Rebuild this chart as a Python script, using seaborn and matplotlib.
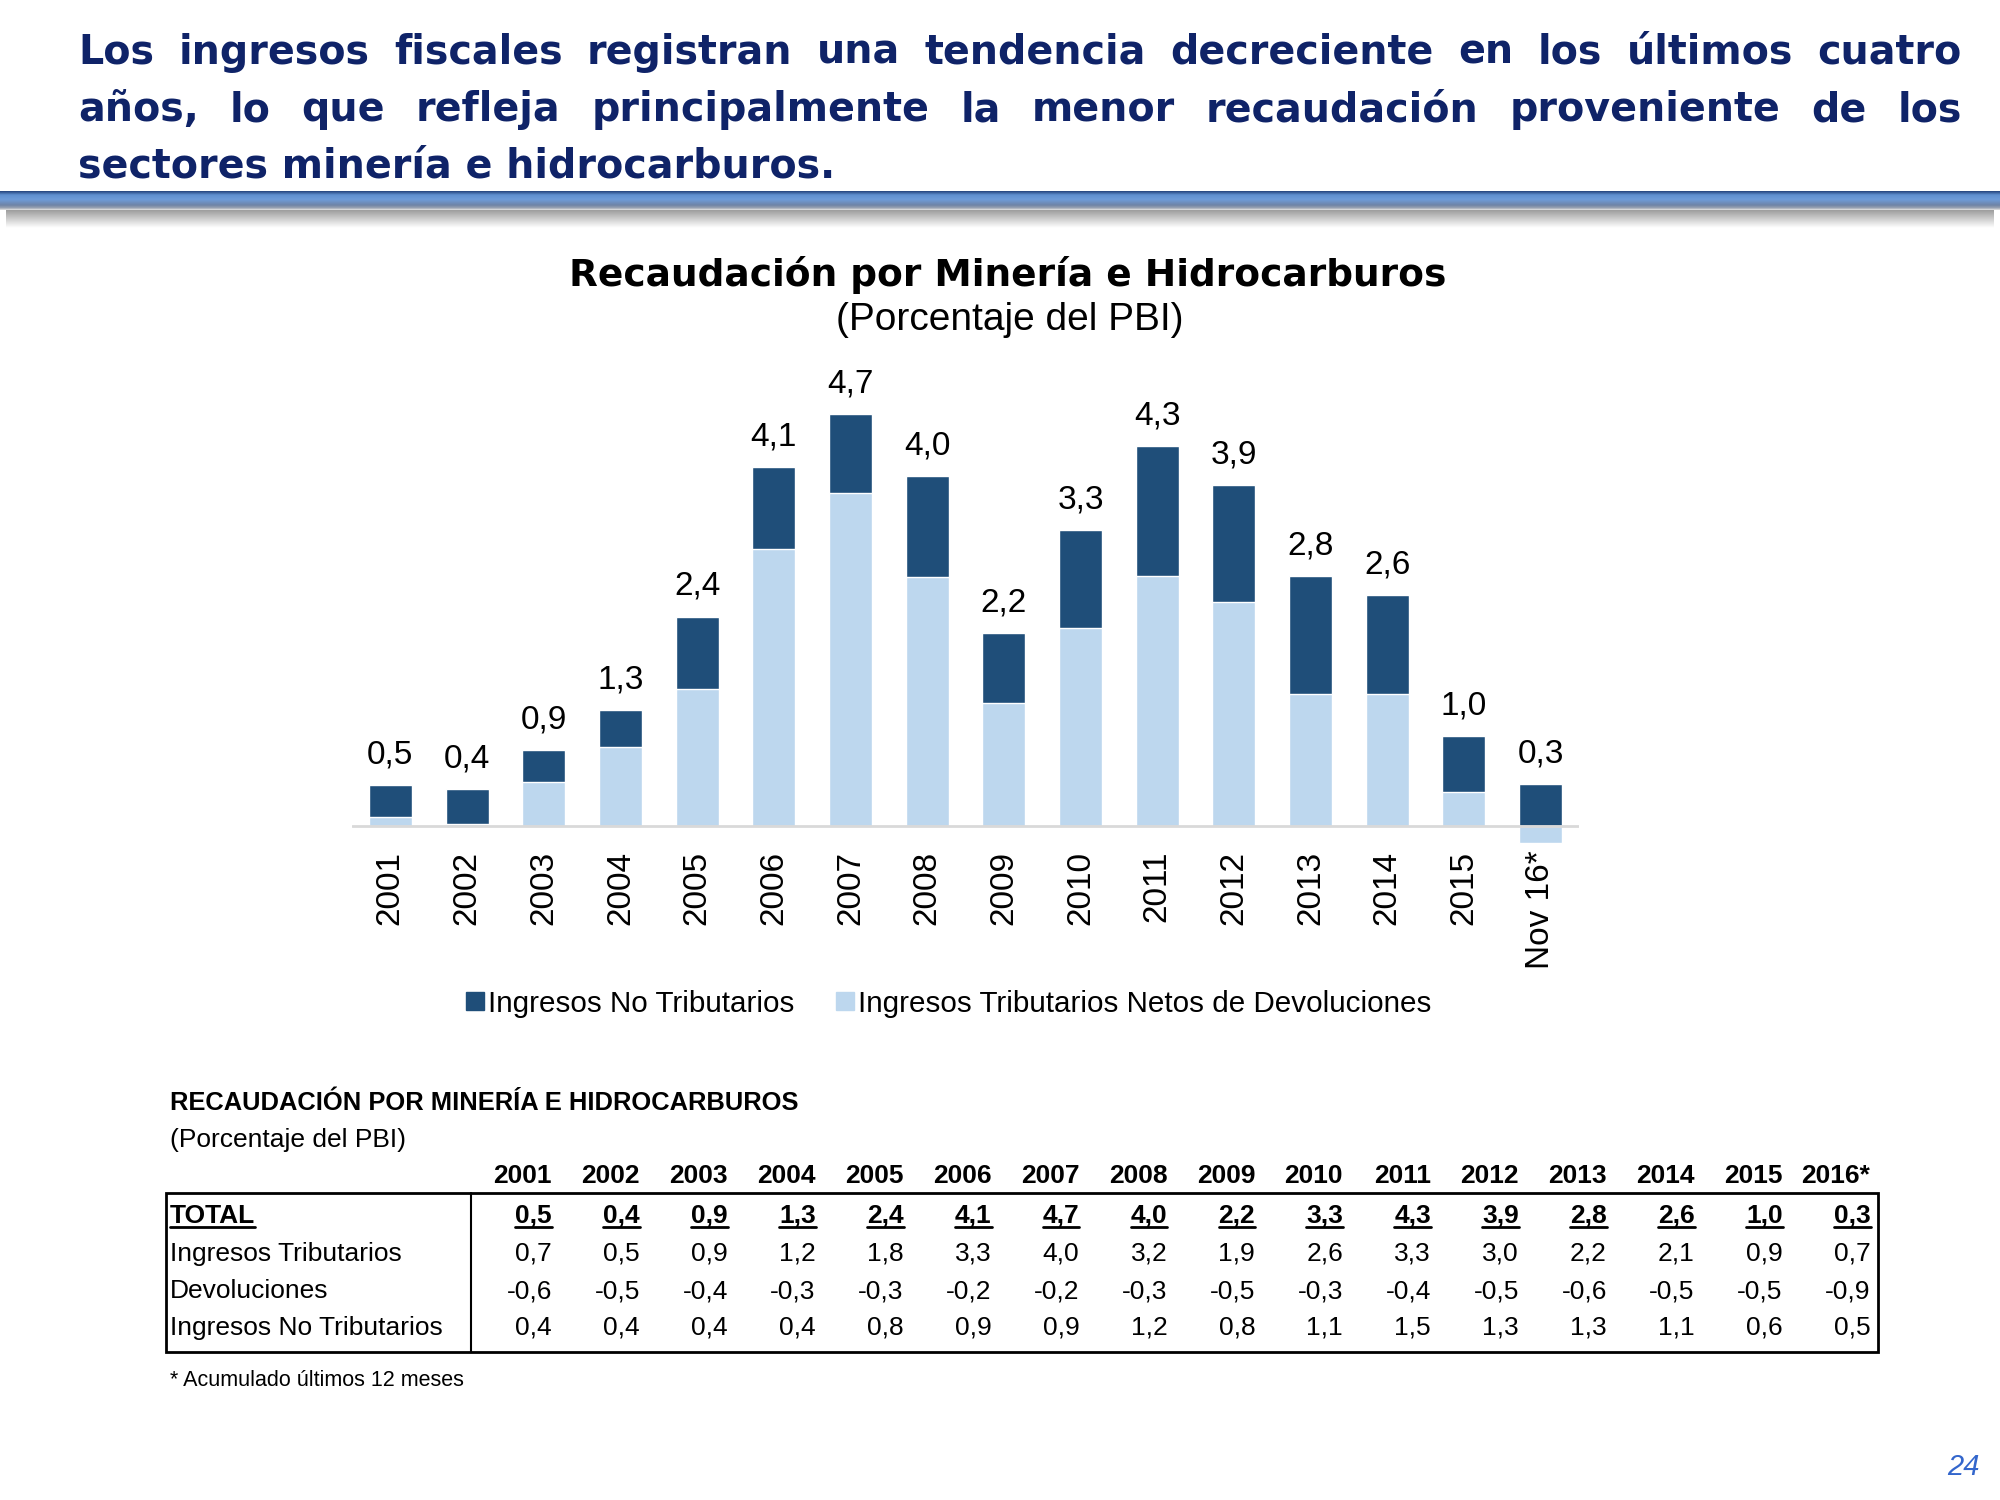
import numpy as np
import pandas as pd
import matplotlib
matplotlib.use("Agg")
import matplotlib.pyplot as plt
import seaborn as sns
from matplotlib import font_manager as fm
from matplotlib.patches import Patch, Rectangle

# chart data
periodos = ["2001", "2002", "2003", "2004", "2005", "2006", "2007", "2008",
            "2009", "2010", "2011", "2012", "2013", "2014", "2015", "Nov 16*"]
netos_devol = [0.10, 0.02, 0.50, 0.90, 1.56, 3.16, 3.80, 2.84,
               1.40, 2.26, 2.85, 2.55, 1.51, 1.51, 0.39, -0.20]
no_tributarios_graf = [0.37, 0.40, 0.37, 0.42, 0.83, 0.94, 0.90, 1.15,
                       0.80, 1.12, 1.49, 1.34, 1.34, 1.12, 0.64, 0.48]

# table data
anios_tabla = ["2001", "2002", "2003", "2004", "2005", "2006", "2007", "2008",
               "2009", "2010", "2011", "2012", "2013", "2014", "2015", "2016*"]
total = [0.5, 0.4, 0.9, 1.3, 2.4, 4.1, 4.7, 4.0, 2.2, 3.3, 4.3, 3.9, 2.8, 2.6, 1.0, 0.3]
ingresos_trib = [0.7, 0.5, 0.9, 1.2, 1.8, 3.3, 4.0, 3.2, 1.9, 2.6, 3.3, 3.0, 2.2, 2.1, 0.9, 0.7]
devoluciones = [-0.6, -0.5, -0.4, -0.3, -0.3, -0.2, -0.2, -0.3, -0.5, -0.3, -0.4, -0.5, -0.6, -0.5, -0.5, -0.9]
ingresos_no_trib = [0.4, 0.4, 0.4, 0.4, 0.8, 0.9, 0.9, 1.2, 0.8, 1.1, 1.5, 1.3, 1.3, 1.1, 0.6, 0.5]

DARK = "#1F4E79"
LIGHT = "#BDD7EE"
NAVY = "#0F2368"


def fmt(v):
    return f"{v:.1f}".replace(".", ",")


sns.set_style("white")
plt.rcParams["font.family"] = ["Liberation Sans", "DejaVu Sans"]
plt.rcParams["text.color"] = "black"
plt.rcParams["xtick.color"] = "black"
plt.rcParams["xtick.labelcolor"] = "black"

names = {f.name for f in fm.fontManager.ttflist}
if "Liberation Sans Narrow" in names:
    TFONT, TSIZE, TTITLE = ["Liberation Sans Narrow", "DejaVu Sans"], 22, 22
else:
    TFONT, TSIZE, TTITLE = ["Liberation Sans", "DejaVu Sans"], 19, 18.4

fig = plt.figure(figsize=(20, 15), dpi=100)
bg = fig.add_axes([0, 0, 1, 1], zorder=0)
bg.set_xlim(0, 2000)
bg.set_ylim(1500, 0)
bg.axis("off")
r = fig.canvas.get_renderer()

# ---- header text, justified ----
head_kw = dict(fontsize=28.5, fontweight="bold", color=NAVY,
               family=["DejaVu Sans"], va="baseline")
lines = ["Los ingresos fiscales registran una tendencia decreciente en los últimos cuatro",
         "años, lo que refleja principalmente la menor recaudación proveniente de los"]
for line, y in zip(lines, [64, 121]):
    words = line.split()
    texts = [bg.text(0, y, w, **head_kw) for w in words]
    widths = [t.get_window_extent(r).width for t in texts]
    gap = (1962 - 78 - sum(widths)) / (len(words) - 1)
    x = 78
    for t, w in zip(texts, widths):
        t.set_x(x)
        x += w + gap
bg.text(78, 177, "sectores minería e hidrocarburos.", **head_kw)

# ---- header rule with gradient + shadow ----
stops_y = [0, 0.2, 0.45, 0.75, 0.9, 1.0]
stops_c = ["#26467F", "#5F8FD0", "#6E9BD8", "#6F84A6", "#9AA3B2", "#E0E0E0"]
rgb = np.array([matplotlib.colors.to_rgb(c) for c in stops_c])
t = np.linspace(0, 1, 40)
grad = np.stack([np.interp(t, stops_y, rgb[:, i]) for i in range(3)], axis=-1)
bg.imshow(grad[:, None, :], extent=(0, 2000, 210, 191), aspect="auto", zorder=1)
shadow = np.linspace(0.62, 1.0, 30)
sh = np.stack([shadow] * 3, axis=-1)
bg.imshow(sh[:, None, :], extent=(6, 1994, 228, 210), aspect="auto", zorder=1)
bg.set_xlim(0, 2000)
bg.set_ylim(1500, 0)

# ---- chart title ----
bg.text(1008, 286, "Recaudación por Minería e Hidrocarburos", ha="center", va="baseline",
        fontsize=27, fontweight="bold", family=["DejaVu Sans"], color="black")
bg.text(1010, 330, "(Porcentaje del PBI)", ha="center", va="baseline", fontsize=28,
        color="black")

# ---- stacked bar chart ----
df = pd.DataFrame({"periodo": periodos, "netos": netos_devol,
                   "no_trib": no_tributarios_graf})
df["tope"] = df["netos"].clip(lower=0) + df["no_trib"]

ax = fig.add_axes([0.176, 0.432, 0.6135, 0.321], zorder=2)
ax.patch.set_alpha(0)
sns.barplot(data=df, x="periodo", y="tope", color=DARK, width=0.56, saturation=1,
            errorbar=None, ax=ax)
sns.barplot(data=df, x="periodo", y="netos", color=LIGHT, width=0.56, saturation=1,
            errorbar=None, ax=ax)
ax.axhline(0, color="#D9D9D9", lw=2, zorder=5)
ax.set_ylim(-0.3, 5.2)
ax.set_xlim(-0.5, len(periodos) - 0.5)
ax.set_xlabel("")
ax.set_ylabel("")
ax.set_yticks([])
for s in ax.spines.values():
    s.set_visible(False)
ax.tick_params(axis="x", rotation=90, labelsize=24, length=0, pad=-1,
               labelcolor="black")

for i, (top, lab) in enumerate(zip(df["tope"], total)):
    ax.annotate(fmt(lab), (i, top), xytext=(0, 15.5), textcoords="offset points",
                ha="center", va="baseline", fontsize=24, color="black")

leg = fig.legend(handles=[Patch(color=DARK, label="Ingresos No Tributarios"),
                          Patch(color=LIGHT, label="Ingresos Tributarios Netos de Devoluciones")],
                 loc="center", bbox_to_anchor=(0.4745, 0.331), ncol=2, frameon=False,
                 fontsize=21.3, handlelength=0.6, handleheight=0.6, handletextpad=0.15,
                 columnspacing=1.4, labelcolor="black")

# ---- table ----
tkw = dict(family=TFONT, fontsize=TSIZE, va="baseline", color="black")
bg.text(170, 1110, "RECAUDACIÓN POR MINERÍA E HIDROCARBUROS", fontweight="bold",
        family=TFONT, fontsize=TTITLE, va="baseline", color="black")
bg.text(170, 1147, "(Porcentaje del PBI)", **tkw)

col_right = [552 + k * 87.9 for k in range(len(anios_tabla))]
for x, a in zip(col_right, anios_tabla):
    bg.text(x, 1183, a, ha="right", fontweight="bold", **tkw)

bg.add_patch(Rectangle((166, 1193), 1878 - 166, 1352 - 1193, fill=False,
                       lw=2, ec="black", zorder=3))
bg.plot([471, 471], [1193, 1352], color="black", lw=1.5, zorder=3)

rows = [("TOTAL", total, True), ("Ingresos Tributarios", ingresos_trib, False),
        ("Devoluciones", devoluciones, False),
        ("Ingresos No Tributarios", ingresos_no_trib, False)]
row_base = [1223, 1261, 1298, 1335]
underlined = []
for (lab, vals, bold), yb in zip(rows, row_base):
    w = "bold" if bold else "normal"
    t0 = bg.text(170, yb, lab, fontweight=w, **tkw)
    if bold:
        underlined.append(t0)
    for x, v in zip(col_right, vals):
        tv = bg.text(x, yb, fmt(v), ha="right", fontweight=w, **tkw)
        if bold:
            underlined.append(tv)

for tx in underlined:
    ext = tx.get_window_extent(r)
    yb = row_base[0] + 4
    bg.plot([ext.x0, ext.x1], [yb, yb], color="black", lw=2, zorder=3)

bg.text(170, 1386, "* Acumulado últimos 12 meses", family=TFONT, fontsize=15.5,
        va="baseline", color="black")
bg.text(1980, 1475, "24", ha="right", va="baseline", fontsize=21, style="italic",
        color="#3366CC")

fig.savefig("out.png", dpi=100)
